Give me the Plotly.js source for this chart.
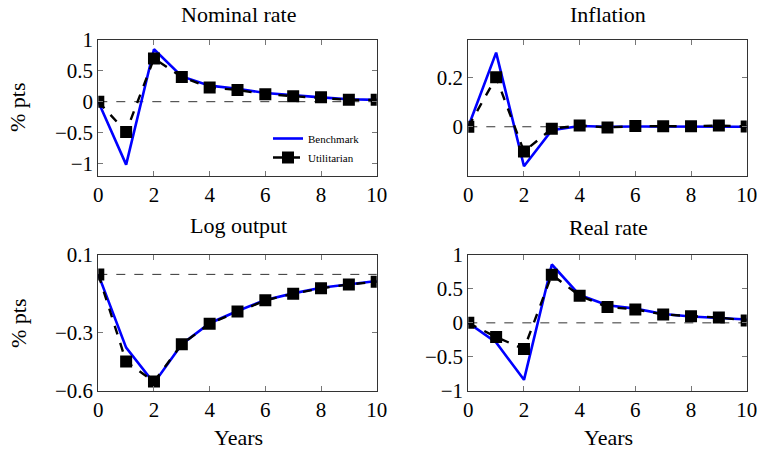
<!DOCTYPE html>
<html>
<head>
<meta charset="utf-8">
<script src="https://cdn.plot.ly/plotly-3.0.1.min.js"></script>
<style>
  html, body { margin: 0; padding: 0; background: #fff; }
  #chart { width: 757px; height: 450px; }
</style>
</head>
<body>
<div id="chart"></div>
<script>
// Impulse responses, horizon in years
const years = [0, 1, 2, 3, 4, 5, 6, 7, 8, 9, 10];

const nominalBenchmark   = [0, -1.02, 0.85, 0.41, 0.26, 0.21, 0.14, 0.10, 0.07, 0.04, 0.03];
const nominalUtilitarian = [0, -0.49, 0.70, 0.40, 0.23, 0.19, 0.12, 0.09, 0.07, 0.03, 0.03];

const inflationBenchmark   = [0, 0.30, -0.16, -0.014, 0.003, 0.0, 0.001, 0.0, 0.0, 0.001, 0.0];
const inflationUtilitarian = [0, 0.20, -0.10, -0.008, 0.005, -0.003, 0.003, 0.002, 0.002, 0.005, 0.001];

const outputBenchmark   = [0, -0.378, -0.561, -0.36, -0.252, -0.189, -0.132, -0.098, -0.069, -0.05, -0.034];
const outputUtilitarian = [0, -0.45, -0.553, -0.36, -0.254, -0.192, -0.134, -0.10, -0.072, -0.052, -0.038];

const realBenchmark   = [0, -0.29, -0.84, 0.86, 0.41, 0.26, 0.21, 0.13, 0.094, 0.074, 0.05];
const realUtilitarian = [0, -0.21, -0.386, 0.71, 0.40, 0.233, 0.198, 0.124, 0.099, 0.079, 0.035];

const panelTitles = ["Nominal rate", "Inflation", "Log output", "Real rate"];
const seriesNames = ["Benchmark", "Utilitarian"];

const serif = "Liberation Serif";
const blue = "#0000ff";

const panels = [
  { b: nominalBenchmark,   u: nominalUtilitarian,   xa: "x",  ya: "y"  },
  { b: inflationBenchmark, u: inflationUtilitarian, xa: "x2", ya: "y2" },
  { b: outputBenchmark,    u: outputUtilitarian,    xa: "x3", ya: "y3" },
  { b: realBenchmark,      u: realUtilitarian,      xa: "x4", ya: "y4" }
];

const traces = [];
panels.forEach((p, i) => {
  traces.push({
    x: years, y: p.b, xaxis: p.xa, yaxis: p.ya, type: "scatter", mode: "lines",
    name: seriesNames[0], showlegend: i === 0, legendrank: 1,
    line: { color: blue, width: 2.6 }
  });
  traces.push({
    x: years, y: p.u, xaxis: p.xa, yaxis: p.ya, type: "scatter", mode: "lines+markers",
    name: seriesNames[1], showlegend: i === 0, legendrank: 2,
    line: { color: "#000", width: 2.4, dash: "dash" },
    marker: { symbol: "square", size: 12, color: "#000" }
  });
});

const tickFont = { family: serif, size: 21, color: "#000" };

function xAxis(domain, anchor) {
  return {
    domain: domain, anchor: anchor, range: [0, 10],
    tickvals: [0, 2, 4, 6, 8, 10], ticks: "inside", ticklen: 5, tickcolor: "#777",
    showline: true, linecolor: "#333", linewidth: 1, mirror: "allticks",
    showgrid: false, zeroline: false, tickfont: tickFont, ticklabeloverflow: "allow"
  };
}
function yAxis(domain, anchor, range, tickvals) {
  return {
    domain: domain, anchor: anchor, range: range, tickvals: tickvals,
    ticks: "inside", ticklen: 5, tickcolor: "#777",
    showline: true, linecolor: "#333", linewidth: 1, mirror: "allticks",
    showgrid: false, zeroline: false, tickfont: tickFont, ticklabeloverflow: "allow"
  };
}

const W = 757, H = 450;
const colL = [98.3 / W, 376.7 / W];
const colR = [468.3 / W, 746.7 / W];
const rowT = [1 - 175.7 / H, 1 - 40 / H];
const rowB = [1 - 390.7 / H, 1 - 255 / H];

function zeroLine(xa, ya) {
  return {
    type: "line", xref: xa + " domain", yref: ya, x0: 0, x1: 1, y0: 0, y1: 0,
    line: { color: "#333", width: 1, dash: "dash" }, layer: "below"
  };
}

function label(text, x, y, size, angle) {
  return {
    text: text, xref: "paper", yref: "paper", x: x / W, y: 1 - y / H,
    xanchor: "center", yanchor: "middle", showarrow: false,
    textangle: angle || 0, font: { family: serif, size: size, color: "#000" }
  };
}

const layout = {
  width: W, height: H,
  margin: { l: 0, r: 0, t: 0, b: 0 },
  paper_bgcolor: "#fff", plot_bgcolor: "#fff",
  font: { family: serif },
  xaxis: xAxis(colL, "y"),
  yaxis: yAxis(rowT, "x", [-1.2, 1.0], [-1, -0.5, 0, 0.5, 1]),
  xaxis2: xAxis(colR, "y2"),
  yaxis2: yAxis(rowT, "x2", [-0.198, 0.351], [0, 0.2]),
  xaxis3: xAxis(colL, "y3"),
  yaxis3: yAxis(rowB, "x3", [-0.6, 0.1], [-0.6, -0.3, 0.1]),
  xaxis4: xAxis(colR, "y4"),
  yaxis4: yAxis(rowB, "x4", [-1, 1], [-1, -0.5, 0, 0.5, 1]),
  shapes: [zeroLine("x", "y"), zeroLine("x2", "y2"), zeroLine("x3", "y3"), zeroLine("x4", "y4")],
  annotations: [
    label(panelTitles[0], 238, 15, 22),
    label(panelTitles[1], 608, 15, 22),
    label(panelTitles[2], 238, 225, 22),
    label(panelTitles[3], 608, 227, 22),
    label("Years", 238, 437, 22),
    label("Years", 608, 437, 22),
    label("% pts", 18, 107, 22, -90),
    label("% pts", 18, 323, 22, -90)
  ],
  legend: {
    x: 268 / W, y: 1 - 124 / H, xanchor: "left", yanchor: "top",
    bgcolor: "rgba(0,0,0,0)", borderwidth: 0,
    font: { family: serif, size: 11, color: "#000" },
    itemwidth: 30, tracegroupgap: 0
  },
  showlegend: true
};

Plotly.newPlot("chart", traces, layout, { displayModeBar: false, staticPlot: true });
</script>
</body>
</html>
